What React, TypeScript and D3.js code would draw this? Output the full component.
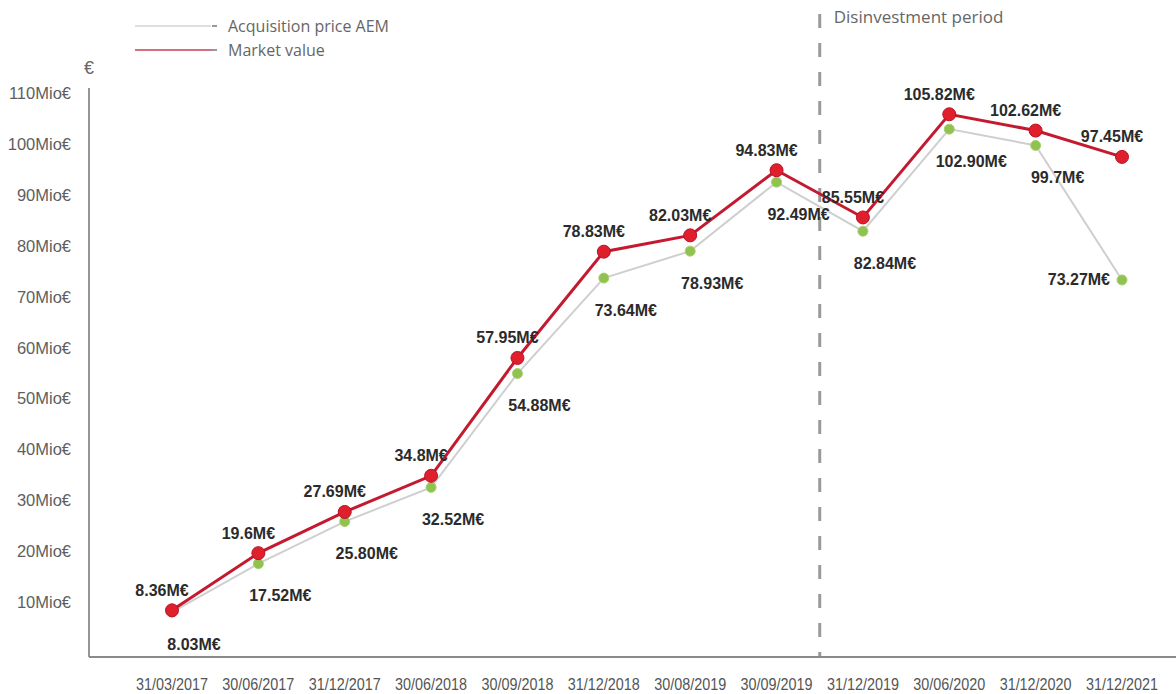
import React from "react";
import * as d3 from "d3";

const categories = [
  "31/03/2017", "30/06/2017", "31/12/2017", "30/06/2018", "30/09/2018", "31/12/2018",
  "30/08/2019", "30/09/2019", "31/12/2019", "30/06/2020", "31/12/2020", "31/12/2021",
];
const marketValue = [8.36, 19.6, 27.69, 34.8, 57.95, 78.83, 82.03, 94.83, 85.55, 105.82, 102.62, 97.45];
const marketLabels = ["8.36M€", "19.6M€", "27.69M€", "34.8M€", "57.95M€", "78.83M€", "82.03M€", "94.83M€", "85.55M€", "105.82M€", "102.62M€", "97.45M€"];
const acquisition = [8.03, 17.52, 25.8, 32.52, 54.88, 73.64, 78.93, 92.49, 82.84, 102.9, 99.7, 73.27];
const acquisitionLabels = ["8.03M€", "17.52M€", "25.80M€", "32.52M€", "54.88M€", "73.64M€", "78.93M€", "92.49M€", "82.84M€", "102.90M€", "99.7M€", "73.27M€"];
const yTicks = [10, 20, 30, 40, 50, 60, 70, 80, 90, 100, 110];
const yTickLabels = ["10Mio€", "20Mio€", "30Mio€", "40Mio€", "50Mio€", "60Mio€", "70Mio€", "80Mio€", "90Mio€", "100Mio€", "110Mio€"];
const legendItems = ["Acquisition price AEM", "Market value"];
const disinvestmentLabel = "Disinvestment period";
const disinvestmentStartIndex = 8;

const W = 1176;
const H = 694;

export default function App() {
  const x = d3.scalePoint<string>().domain(categories).range([172, 1122]);
  const y = d3.scaleLinear().domain([10, 110]).range([602, 93]);
  const axisX = 89;
  const axisY = 657;

  const line = d3
    .line<number>()
    .x((_, i) => x(categories[i]) as number)
    .y((d) => y(d));

  const dividerX =
    ((x(categories[disinvestmentStartIndex - 1]) as number) + (x(categories[disinvestmentStartIndex]) as number)) / 2;

  const sans = "'Liberation Sans', Arial, sans-serif";
  const soft = "'Open Sans', 'Noto Sans', sans-serif";

  return (
    <svg
      width={W}
      height={H}
      viewBox={`0 0 ${W} ${H}`}
      style={{ position: "absolute", left: 0, top: 0, background: "#fff" }}
    >
      <rect x={0} y={0} width={W} height={H} fill="#fff" />

      {/* legend */}
      <g fontFamily={soft} fontSize={16} fill="#666">
        <line x1={135} x2={211} y1={26} y2={26} stroke="#d4d4d4" strokeWidth={1.5} />
        <line x1={212} x2={217} y1={26} y2={26} stroke="#777" strokeWidth={1.5} />
        <text x={228} y={26} dominantBaseline="central">{legendItems[0]}</text>
        <line x1={135} x2={212} y1={50} y2={50} stroke="#d47080" strokeWidth={2} />
        <line x1={212} x2={217} y1={50} y2={50} stroke="#777" strokeWidth={1.5} />
        <text x={228} y={50} dominantBaseline="central">{legendItems[1]}</text>
      </g>

      {/* divider */}
      <line
        x1={dividerX}
        x2={dividerX}
        y1={14}
        y2={axisY}
        stroke="#9a9a9a"
        strokeWidth={3}
        strokeDasharray="14 15"
      />
      <text x={dividerX + 14} y={16} fontFamily={soft} fontSize={17} fill="#666" dominantBaseline="central">
        {disinvestmentLabel}
      </text>

      {/* axes */}
      <line x1={axisX} x2={axisX} y1={88} y2={axisY} stroke="#8a8a8a" strokeWidth={1.8} />
      <line x1={axisX} x2={W} y1={axisY} y2={axisY} stroke="#8a8a8a" strokeWidth={1.8} />
      <text x={axisX} y={68} fontFamily={sans} fontSize={18} fill="#666" textAnchor="middle" dominantBaseline="central">
        €
      </text>

      {yTicks.map((t, i) => (
        <text
          key={t}
          x={71}
          y={y(t)}
          textAnchor="end"
          dominantBaseline="central"
          fontFamily={sans}
          fontSize={16.5}
          fill="#5e5e5e"
        >
          {yTickLabels[i]}
        </text>
      ))}

      {categories.map((c) => (
        <text
          key={c}
          x={(x(c) as number) - 36}
          y={684}
          dominantBaseline="central"
          fontFamily={sans}
          fontSize={17}
          fill="#555"
          textLength={72}
          lengthAdjust="spacingAndGlyphs"
        >
          {c}
        </text>
      ))}

      {/* acquisition line */}
      <path d={line(acquisition) || ""} fill="none" stroke="#cfcfcf" strokeWidth={2} />
      {/* market line */}
      <path d={line(marketValue) || ""} fill="none" stroke="#c41a30" strokeWidth={3} />

      {acquisition.map((v, i) => (
        <circle key={"a" + i} cx={x(categories[i]) as number} cy={y(v)} r={5} fill="#8fc24e" stroke="#a8d070" strokeWidth={1} />
      ))}
      {marketValue.map((v, i) => (
        <circle key={"m" + i} cx={x(categories[i]) as number} cy={y(v)} r={6.5} fill="#e01f2d" stroke="#b8122a" strokeWidth={1} />
      ))}

      {/* labels */}
      <g fontFamily={sans} fontSize={16} fontWeight="bold" fill="#2b2b2b">
        {marketValue.map((v, i) => (
          <text
            key={"ml" + i}
            x={(x(categories[i]) as number) - 10}
            y={y(v) - 20}
            textAnchor="middle"
            dominantBaseline="central"
          >
            {marketLabels[i]}
          </text>
        ))}
        {acquisition.map((v, i) => {
          const last = i === acquisition.length - 1;
          return (
            <text
              key={"al" + i}
              x={(x(categories[i]) as number) + (last ? -12 : 22)}
              y={y(v) + (last ? 0 : 32)}
              textAnchor={last ? "end" : "middle"}
              dominantBaseline="central"
            >
              {acquisitionLabels[i]}
            </text>
          );
        })}
      </g>
    </svg>
  );
}
